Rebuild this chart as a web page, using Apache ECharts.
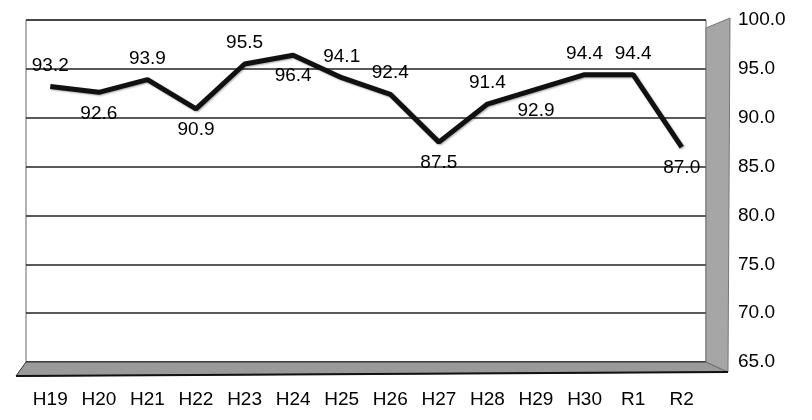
<!DOCTYPE html>
<html><head><meta charset="utf-8">
<script src="https://cdn.jsdelivr.net/npm/echarts@6/dist/echarts.min.js"></script>
<style>html,body{margin:0;padding:0;background:#fff}#c{width:812px;height:420px}</style>
</head><body><div id="c"></div>
<script>
const categories = ['H19','H20','H21','H22','H23','H24','H25','H26','H27','H28','H29','H30','R1','R2'];
const values = [93.2, 92.6, 93.9, 90.9, 95.5, 96.4, 94.1, 92.4, 87.5, 91.4, 92.9, 94.4, 94.4, 87.0];
const labelSide = ['top','bottom','top','bottom','top','bottom','top','top','bottom','top','bottom','top','top','bottom'];
const yMin = 65, yMax = 100, yStep = 5;

const chart = echarts.init(document.getElementById('c'));
const font = 'Liberation Sans, Arial, sans-serif';
const option = {
  animation: false,
  backgroundColor: '#fff',
  grid: { left: 26, right: 106, top: 20, bottom: 58, show: true, borderColor: '#666', borderWidth: 1 },
  xAxis: {
    type: 'category', data: categories, boundaryGap: true,
    axisLine: { show: false }, axisTick: { show: false },
    axisLabel: { color: '#000', fontSize: 19, fontFamily: font, margin: 28 }
  },
  yAxis: {
    type: 'value', position: 'right', min: yMin, max: yMax, interval: yStep,
    axisLine: { show: false }, axisTick: { show: false },
    axisLabel: { color: '#000', fontSize: 19, fontFamily: font, margin: 32, formatter: v => v.toFixed(1) },
    splitLine: { lineStyle: { color: '#222', width: 1.5 } }
  },
  series: [{
    type: 'line',
    data: values.map((v, i) => ({ value: v, label: { position: labelSide[i] } })),
    symbol: 'circle', symbolSize: 1, showSymbol: true,
    itemStyle: { color: 'rgba(0,0,0,0)' },
    lineStyle: { color: '#111', width: 5, shadowColor: 'rgba(0,0,0,0.35)', shadowBlur: 2, shadowOffsetX: 1, shadowOffsetY: 1 },
    label: { show: true, color: '#000', fontSize: 19, fontFamily: font, distance: 11, formatter: p => Number(p.value).toFixed(1) },
    labelLayout: { hideOverlap: false },
    z: 5
  }]
};
chart.setOption(option);

const rect = chart.getModel().getComponent('grid', 0).coordinateSystem.getRect();
const x0 = rect.x, y0 = rect.y, x1 = rect.x + rect.width, y1 = rect.y + rect.height;
chart.setOption({
  graphic: [
    { type: 'polygon', shape: { points: [[x0, y1], [x1, y1], [x1 + 22, y1 + 10], [x0 - 10, y1 + 14]] },
      style: { fill: '#9a9a9a', stroke: '#333', lineWidth: 1 }, z: 1 },
    { type: 'line', shape: { x1: x0 - 10, y1: y1 + 14, x2: x1 + 22, y2: y1 + 10 }, style: { stroke: '#111', lineWidth: 2 }, z: 2 },
    { type: 'polygon', shape: { points: [[x1, y0 + 8], [x1 + 24, y0 - 2], [x1 + 22, y1 + 10], [x1, y1]] },
      style: { fill: '#a6a6a6', stroke: '#777', lineWidth: 1 }, z: 1 }
  ]
});
</script></body></html>
